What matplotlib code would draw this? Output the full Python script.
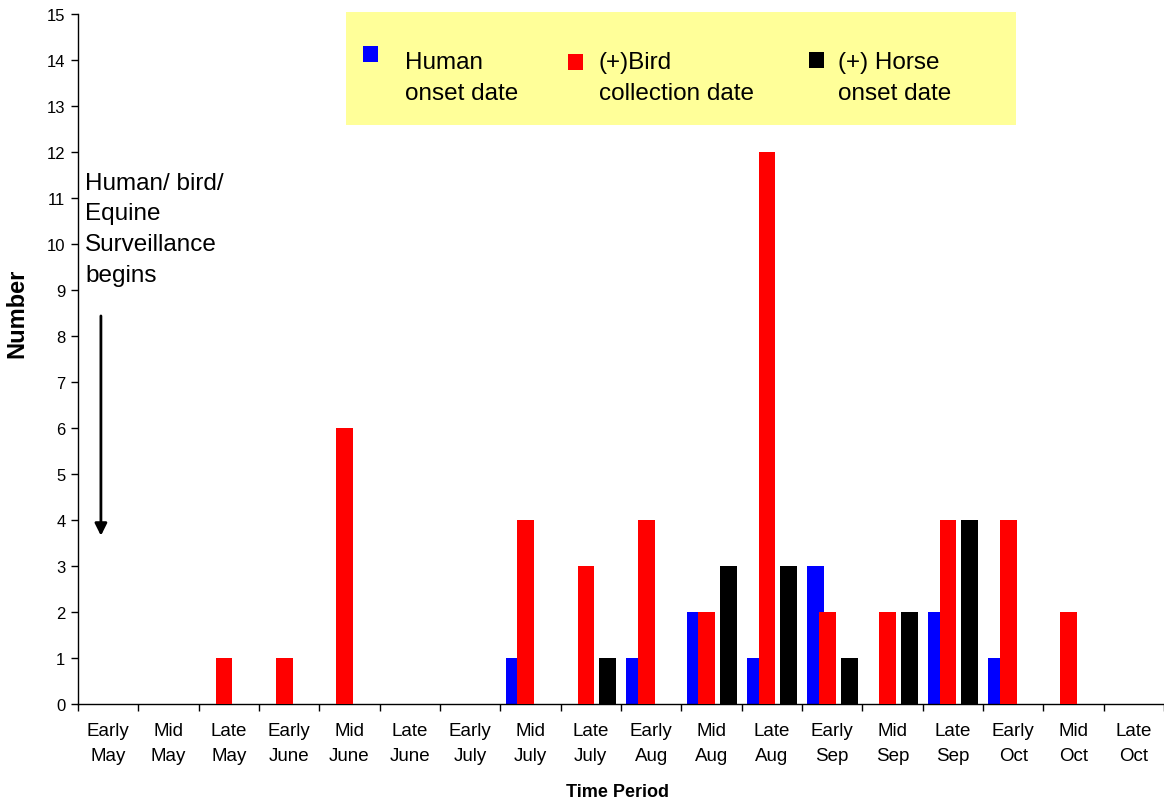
import numpy as np
import matplotlib
matplotlib.use("Agg")
import matplotlib.pyplot as plt
from matplotlib.patches import Rectangle

plt.rcParams['font.family'] = ['Liberation Sans', 'DejaVu Sans']

periods = ["Early\nMay", "Mid\nMay", "Late\nMay", "Early\nJune", "Mid\nJune", "Late\nJune",
           "Early\nJuly", "Mid\nJuly", "Late\nJuly", "Early\nAug", "Mid\nAug", "Late\nAug",
           "Early\nSep", "Mid\nSep", "Late\nSep", "Early\nOct", "Mid\nOct", "Late\nOct"]
human = [0, 0, 0, 0, 0, 0, 0, 1, 0, 1, 2, 1, 3, 0, 2, 1, 0, 0]
bird = [0, 0, 1, 1, 6, 0, 0, 4, 3, 4, 2, 12, 2, 2, 4, 4, 2, 0]
horse = [0, 0, 0, 0, 0, 0, 0, 0, 1, 0, 3, 3, 1, 2, 4, 0, 0, 0]

fig = plt.figure(figsize=(11.64, 8.03), dpi=100)
ax = fig.add_axes([0.067, 0.122, 0.933, 0.859])

x = np.arange(len(periods))
w = 0.28
ax.bar(x - 0.27, human, w, color="#0000FF", zorder=2)
ax.bar(x - 0.08, bird, w, color="#FF0000", zorder=3)
ax.bar(x + 0.28, horse, w, color="#000000", zorder=4)

ax.set_xlim(-0.5, len(periods) - 0.5)
ax.set_ylim(0, 15)
ax.set_yticks(range(0, 16))
ax.tick_params(axis="y", direction="out", length=5, width=1, labelsize=12, pad=4)

# category boundaries carry the tick marks, labels sit in the middle
ax.set_xticks(np.arange(-0.5, len(periods), 1.0))
ax.set_xticklabels([])
ax.set_xticks(x, minor=True)
ax.set_xticklabels(periods, minor=True, fontsize=13.5, linespacing=1.6)
ax.tick_params(axis="x", which="major", direction="out", length=5, width=1)
ax.tick_params(axis="x", which="minor", length=0, pad=13)

for side in ["top", "right"]:
    ax.spines[side].set_visible(False)
ax.spines["left"].set_linewidth(1)
ax.spines["bottom"].set_linewidth(1)

ax.set_ylabel("Number", fontsize=17, fontweight="bold")
ax.yaxis.set_label_coords(-0.046, 0.568)
ax.set_xlabel("Time Period", fontsize=13, fontweight="bold")
ax.xaxis.set_label_coords(0.497, -0.114)

# note about when surveillance started
ax.text(-0.38, 11.58, "Human/ bird/\nEquine\nSurveillance\nbegins", fontsize=17.5,
        va="top", ha="left", linespacing=1.52)
ax.annotate("", xy=(-0.12, 3.6), xytext=(-0.12, 8.5),
            arrowprops=dict(arrowstyle="-|>", color="black", lw=2, mutation_scale=18))

# legend box
W, H = 1164, 803
fig.patches.append(Rectangle((346 / W, 1 - 126 / H), 670 / W, 113 / H,
                             transform=fig.transFigure, facecolor="#FFFF99",
                             edgecolor="none", zorder=0))
entries = [("#0000FF", "Human\nonset date", 363, 47, 405),
           ("#FF0000", "(+)Bird\ncollection date", 568, 55, 599),
           ("#000000", "(+) Horse\nonset date", 809, 53, 838)]
for col, label, sx, sy, tx in entries:
    fig.patches.append(Rectangle((sx / W, 1 - (sy + 16) / H), 15 / W, 16 / H,
                                 transform=fig.transFigure, facecolor=col,
                                 edgecolor="none", zorder=1))
    fig.text(tx / W, 1 - 52 / H, label, fontsize=17.5, va="top", ha="left",
             linespacing=1.55)

fig.savefig("out.png", dpi=100)
